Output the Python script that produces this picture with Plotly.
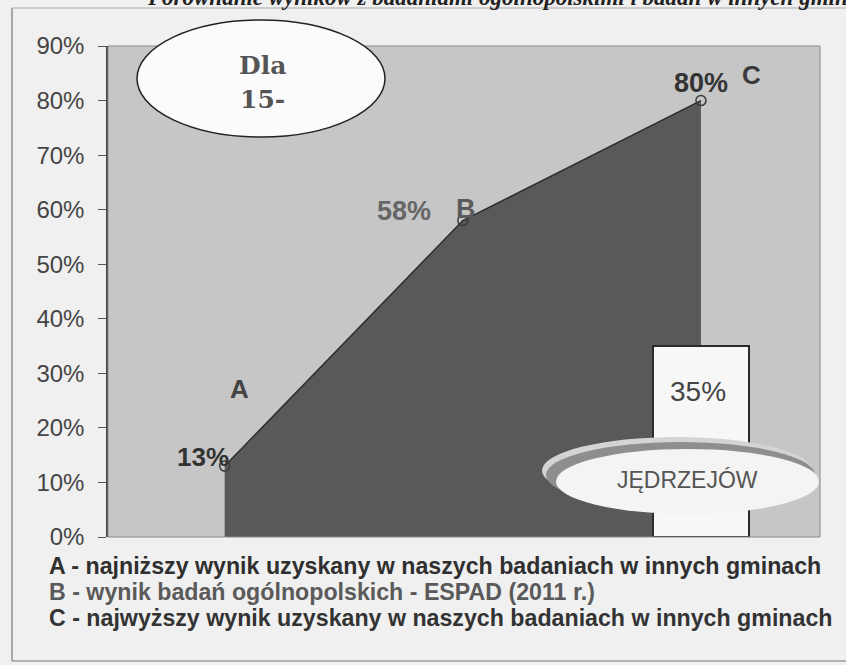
import plotly.graph_objects as go

# ---- data ----
categories = [0, 1, 2]
point_letters = ["A", "B", "C"]
point_values = [13, 58, 80]
point_labels = ["13%", "58%", "80%"]
town_name = "JĘDRZEJÓW"
town_value = [35]
town_label = "35%"
y_ticks = [0, 10, 20, 30, 40, 50, 60, 70, 80, 90]
y_tick_labels = [f"{v}%" for v in y_ticks]
legend_lines = [
    "A - najniższy wynik uzyskany w naszych badaniach w innych gminach",
    "B - wynik badań ogólnopolskich - ESPAD (2011 r.)",
    "C - najwyższy wynik uzyskany w naszych badaniach w innych gminach",
]
badge_lines = ["Dla", "15-"]
header_text = "Porównanie wyników z badaniami ogólnopolskimi i badań w innych gminach"

W, H = 846, 665
L, R, T, B = 108, 26, 46, 128
PW, PH = W - L - R, H - T - B


def px(x):
    return (x - L) / PW


def py(y):
    return (H - B - y) / PH


fig = go.Figure()

fig.add_trace(go.Scatter(
    x=categories, y=point_values, mode="lines+markers",
    fill="tozeroy", fillcolor="#595959",
    line=dict(color="#2e2e2e", width=1.5),
    marker=dict(symbol="circle-open", size=10, color="#3a3a3a", line=dict(width=1.5)),
    hoverinfo="skip", showlegend=False,
))

fig.add_trace(go.Bar(
    x=[categories[-1]], y=town_value, width=0.4,
    marker=dict(color="#f7f7f7", line=dict(color="#2a2a2a", width=2)),
    xaxis="x2", yaxis="y", hoverinfo="skip", showlegend=False,
))

xr = [-0.49, 2.5]
fig.update_layout(
    width=W, height=H,
    margin=dict(l=L, r=R, t=T, b=B),
    paper_bgcolor="#f0f0f0",
    plot_bgcolor="#c6c6c6",
    xaxis=dict(range=xr, visible=False, fixedrange=True),
    xaxis2=dict(range=xr, visible=False, overlaying="x", fixedrange=True),
    yaxis=dict(
        range=[0, 90], tickvals=y_ticks, ticktext=y_tick_labels,
        ticks="outside", ticklen=8, tickcolor="#555", tickwidth=1,
        showline=True, linecolor="#444", linewidth=1.5,
        showgrid=False, zeroline=False, ticklabelstandoff=9, fixedrange=True,
        tickfont=dict(family="Liberation Sans, Arial, sans-serif", size=24, color="#454545"),
    ),
    font=dict(family="Liberation Sans, Arial, sans-serif"),
    bargap=0,
)

shapes = []
# outer frame
shapes.append(dict(type="line", xref="paper", yref="paper", x0=px(12), x1=px(12), y0=py(8), y1=py(661),
                   line=dict(color="#777", width=1.2)))
shapes.append(dict(type="line", xref="paper", yref="paper", x0=px(12), x1=px(846), y0=py(661), y1=py(661),
                   line=dict(color="#777", width=1.2)))
shapes.append(dict(type="line", xref="paper", yref="paper", x0=px(12), x1=px(846), y0=py(8), y1=py(8),
                   line=dict(color="#aaa", width=1)))
# plot-area border
shapes.append(dict(type="rect", xref="paper", yref="paper", x0=0, x1=1, y0=0, y1=1,
                   line=dict(color="#8a8a8a", width=1), layer="above"))
# "Dla 15-" badge
shapes.append(dict(type="circle", xref="paper", yref="paper", x0=px(137), x1=px(385), y0=py(137), y1=py(20),
                   fillcolor="#fbfbfb", line=dict(color="#222", width=1.5), layer="above"))
# JĘDRZEJÓW badge (3D ring)
shapes.append(dict(type="circle", xref="paper", yref="paper", x0=px(542), x1=px(812), y0=py(504), y1=py(437),
                   fillcolor="#d4d4d4", line=dict(width=0), layer="above"))
shapes.append(dict(type="circle", xref="paper", yref="paper", x0=px(546), x1=px(815), y0=py(508), y1=py(442),
                   fillcolor="#8e8e8e", line=dict(width=0), layer="above"))
shapes.append(dict(type="circle", xref="paper", yref="paper", x0=px(556), x1=px(819), y0=py(514), y1=py(449),
                   fillcolor="#f4f4f4", line=dict(width=0), layer="above"))
fig.update_layout(shapes=shapes)

ann = []
# header (cropped by page top and right edge, as in the scanned original)
ann.append(dict(xref="paper", yref="paper", x=px(884), y=py(-3), xanchor="right", yanchor="middle",
                text="<b><i>" + header_text + "</i></b>", showarrow=False,
                font=dict(family="Liberation Serif, Times New Roman, serif", size=23, color="#222")))
# value labels and letters, placed relative to the data points
val_style = [dict(dx=-22, dy=9, color="#333", size=26),
             dict(dx=-59, dy=10, color="#666", size=27),
             dict(dx=0, dy=18, color="#333", size=27)]
let_style = [dict(dx=15, dy=77, color="#444", size=26),
             dict(dx=3, dy=12, color="#5a5a5a", size=27),
             dict(dx=51, dy=26, color="#3a3a3a", size=26)]
for i, (c, v) in enumerate(zip(categories, point_values)):
    s = val_style[i]
    ann.append(dict(x=c, y=v, xref="x", yref="y", text="<b>" + point_labels[i] + "</b>", showarrow=False,
                    xshift=s["dx"], yshift=s["dy"], xanchor="center", yanchor="middle",
                    font=dict(size=s["size"], color=s["color"], family="Liberation Sans, Arial, sans-serif")))
    s = let_style[i]
    ann.append(dict(x=c, y=v, xref="x", yref="y", text="<b>" + point_letters[i] + "</b>", showarrow=False,
                    xshift=s["dx"], yshift=s["dy"], xanchor="center", yanchor="middle",
                    font=dict(size=s["size"], color=s["color"], family="Liberation Sans, Arial, sans-serif")))
# town bar label
ann.append(dict(x=categories[-1], y=town_value[0], xref="x2", yref="y", text=town_label, showarrow=False,
                xshift=-3, yshift=-45, xanchor="center", yanchor="middle",
                font=dict(size=28, color="#444")))
ann.append(dict(xref="paper", yref="paper", x=px(687), y=py(480), text=town_name, showarrow=False,
                xanchor="center", yanchor="middle",
                font=dict(size=23, color="#555")))
# badge text
for i, t in enumerate(badge_lines):
    ann.append(dict(xref="paper", yref="paper", x=px(262), y=py(66 + 34 * i), text="<b>" + t + "</b>",
                    showarrow=False, xanchor="center", yanchor="middle",
                    font=dict(family="DejaVu Serif, serif", size=25, color="#555")))
# bottom legend lines
leg_colors = ["#2f2f2f", "#5a5a5a", "#333"]
for i, t in enumerate(legend_lines):
    ann.append(dict(xref="paper", yref="paper", x=px(47), y=py(566 + 26 * i), xanchor="left", yanchor="middle",
                    text="<b>" + t + "</b>", showarrow=False,
                    font=dict(family="Liberation Sans, Arial, sans-serif", size=23.2, color=leg_colors[i])))
fig.update_layout(annotations=ann)

fig.write_html("out.html", config={"displayModeBar": False},
               post_script="document.body.style.margin='0';")
